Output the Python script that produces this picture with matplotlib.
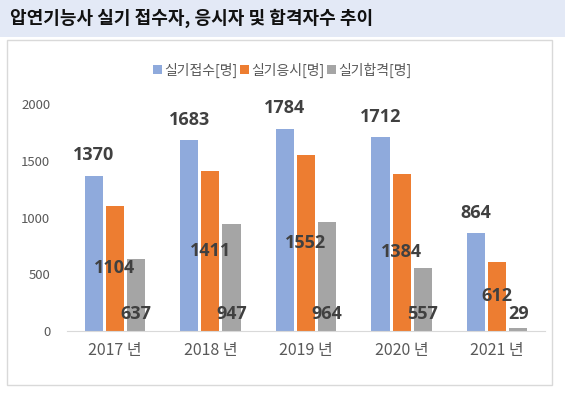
import matplotlib.pyplot as plt
from matplotlib.patches import Rectangle
import numpy as np

plt.rcParams['font.family'] = ['Noto Sans CJK KR', 'DejaVu Sans']

years = ['2017 년', '2018 년', '2019 년', '2020 년', '2021 년']
applied = [1370, 1683, 1784, 1712, 864]
taken = [1104, 1411, 1552, 1384, 612]
passed = [637, 947, 964, 557, 29]
series_names = ['실기접수[명]', '실기응시[명]', '실기합격[명]']
colors = ['#8FAADC', '#ED7D31', '#A5A5A5']

fig = plt.figure(figsize=(5.65, 3.95), dpi=100)

# title band
fig.patches.append(Rectangle((0, 0.906), 1, 0.094, transform=fig.transFigure,
                             facecolor='#E3E9F6', edgecolor='none', zorder=-1))
fig.text(0.018, 0.953, '압연기능사 실기 접수자, 응시자 및 합격자수 추이',
         fontsize=13, fontweight='bold', va='center', ha='left', color='#111111')

# chart frame
fig.patches.append(Rectangle((0.0124, 0.0253), 0.9646, 0.873, transform=fig.transFigure,
                             facecolor='none', edgecolor='#D9D9D9', lw=1, zorder=-1))

ax = fig.add_axes([0.1186, 0.162, 0.846, 0.5747])
ax.set_zorder(2)
ax.patch.set_alpha(0)
x = np.arange(len(years))
w = 0.19
off = 0.22
b1 = ax.bar(x - off, applied, w, color=colors[0], label=series_names[0])
b2 = ax.bar(x, taken, w, color=colors[1], label=series_names[1])
b3 = ax.bar(x + off, passed, w, color=colors[2], label=series_names[2])

lab = dict(fontsize=13, fontweight='bold', color='#404040', ha='center',
           family='Open Sans')
for i in range(len(years)):
    ax.annotate(str(applied[i]), (x[i] - off, applied[i]), xytext=(0, 8),
                textcoords='offset points', va='bottom', **lab)
    ax.text(x[i], taken[i] / 2, str(taken[i]), va='center', **lab)
    ax.text(x[i] + off, 150, str(passed[i]), va='center', **lab)

ax.set_xlim(-0.5, 4.5)
ax.set_ylim(0, 2000)
ax.set_yticks([0, 500, 1000, 1500, 2000])
ax.set_xticks(x)
ax.set_xticklabels(years, fontsize=11.5, color='#595959')
ax.tick_params(axis='y', labelsize=9.5, labelcolor='#595959', length=0, pad=12)
ax.tick_params(axis='x', length=0, pad=8)
for s in ['top', 'right', 'left']:
    ax.spines[s].set_visible(False)
ax.spines['bottom'].set_color('#D9D9D9')

fig.legend(handles=[b1, b2, b3], labels=series_names, loc='center',
           bbox_to_anchor=(0.5, 0.823), ncol=3, frameon=False, fontsize=10,
           handlelength=0.6, handleheight=0.6, handletextpad=0.2,
           columnspacing=0.2, labelcolor='#595959')

fig.savefig('out.png', dpi=100)
